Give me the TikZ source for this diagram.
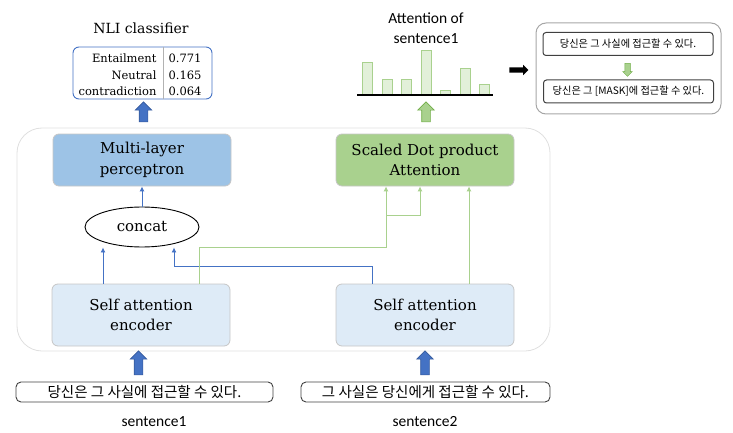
\documentclass[tikz,border=0pt]{standalone}
\usepackage{fontspec}
\setmainfont{DejaVu Serif}
\setsansfont{Carlito}
\newfontfamily\kr{Noto Sans CJK KR}
\usepackage{tikz}
\usetikzlibrary{shapes.geometric,shapes.arrows,arrows.meta}

\definecolor{mlpblue}{HTML}{9DC3E6}
\definecolor{encblue}{HTML}{DEEBF7}
\definecolor{attgreen}{HTML}{A9D18E}
\definecolor{barfill}{HTML}{E2F0D9}
\definecolor{lineblue}{HTML}{4472C4}
\definecolor{darkgreen}{HTML}{70AD47}

\begin{document}
\begin{tikzpicture}[x=1pt,y=-1pt,
    block/.style={rectangle,rounded corners=6pt,draw=gray!45,line width=0.8pt,
        minimum width=178pt,minimum height=52pt,align=center,font=\fontsize{15}{20.5}\selectfont},
    sentbox/.style={rectangle,rounded corners=5pt,draw=black!75,line width=0.9pt,
        minimum height=20pt,inner sep=1pt,font=\kr\fontsize{14.5}{15}\selectfont},
    smallbox/.style={rectangle,rounded corners=3pt,draw=black!75,line width=1pt,
        minimum width=170pt,minimum height=23pt,inner sep=1pt,font=\kr\fontsize{10.2}{12}\selectfont},
    uparrow/.style={single arrow,shape border rotate=90,inner sep=4pt,
        single arrow head extend=4pt,minimum height=20pt,line width=0.6pt},
    bluearr/.style={draw=lineblue,line width=0.9pt,-{Latex[length=5pt,width=5pt]}},
    greenarr/.style={draw=attgreen,line width=0.9pt,-{Latex[length=5pt,width=5pt]}},
    label/.style={font=\sffamily\fontsize{15.5}{20}\selectfont,align=center}]
\useasboundingbox (0,0) rectangle (733,433);

\node[draw=gray!25,line width=0.8pt,rounded corners=25pt,minimum width=533pt,
    minimum height=223pt] (model) at (283.5,239.5) {};

\node[block,fill=mlpblue] (mlp) at (142,160) {Multi-layer\\perceptron};
\node[block,fill=attgreen] (sdpa) at (425,160) {Scaled Dot product\\Attention};
\node[block,fill=encblue,minimum height=62pt] (enc1) at (141,315) {Self attention\\encoder};
\node[block,fill=encblue,minimum height=62pt] (enc2) at (425,315) {Self attention\\encoder};
\node[ellipse,draw,line width=0.9pt,minimum width=114pt,minimum height=40pt,
    font=\fontsize{15}{18}\selectfont] (concat) at (142,227) {concat};

\coordinate (xa) at (103,0);
\coordinate (xb) at (174,0);
\coordinate (xc) at (372,0);
\coordinate (xd) at (199,0);
\coordinate (xe) at (420,0);
\coordinate (xf) at (469,0);
\coordinate (bend1) at (372,266);
\coordinate (bend2) at (386,247);
\coordinate (fork) at (386,215);

\draw[bluearr] (concat) -- (mlp);
\draw[bluearr] (enc1.north -| xa) -- (concat.south -| xa);
\draw[bluearr] (enc2.north -| xc) -- (bend1) -| (concat.south -| xb);
\draw[greenarr] (enc1.north -| xd) |- (bend2) -- (sdpa.south -| bend2);
\draw[greenarr] (fork) -| (sdpa.south -| xe);
\draw[greenarr] (enc2.north -| xf) -- (sdpa.south -| xf);

\node[font=\fontsize{14}{16}\selectfont] (nlititle) at (141,28) {NLI classifier};
\node[draw=lineblue,line width=0.9pt,rounded corners=6pt,minimum width=139pt,
    minimum height=52pt] (nli) at (142.5,73) {};
\coordinate (div) at (163,0);
\draw[gray!60,line width=0.6pt] (nli.north -| div) -- (nli.south -| div);
\node[anchor=east,font=\fontsize{11.5}{13}\selectfont] (ent) at (160,58) {Entailment};
\node[anchor=east,font=\fontsize{11.5}{13}\selectfont] (neu) at (160,75) {Neutral};
\node[anchor=east,font=\fontsize{11.5}{13}\selectfont] (con) at (160,91) {contradiction};
\node[anchor=west,font=\fontsize{11.5}{13}\selectfont] (entv) at (165,58) {0.771};
\node[anchor=west,font=\fontsize{11.5}{13}\selectfont] (neuv) at (165,75) {0.165};
\node[anchor=west,font=\fontsize{11.5}{13}\selectfont] (conv) at (165,91) {0.064};
\node[uparrow,fill=lineblue,draw=lineblue!80!black] (nliup) at (143.5,114) {};

\node[label] (atttitle) at (426,28) {Attention of\\sentence1};
\foreach \bx/\btop in {362/62,382/79,401/79,421/50,440/90,460/68,479/84}
    \draw[draw=attgreen,fill=barfill,line width=0.8pt] (\bx,95) rectangle (\bx+10.5,\btop);
\draw[line width=1.6pt] (357,95) -- (493,95);
\node[uparrow,fill=attgreen,draw=darkgreen] (attup) at (426,114) {};

\node[single arrow,fill=black,inner sep=2.5pt,single arrow head extend=2.5pt,
    minimum height=19pt] (toright) at (517.5,70) {};
\node[draw=gray!70,line width=1pt,rounded corners=10pt,minimum width=185pt,
    minimum height=91pt] (maskgroup) at (628.5,68.5) {};
\node[smallbox] (orig) at (628,44) {당신은 그 사실에 접근할 수 있다.};
\node[smallbox] (masked) at (628.5,91.5) {당신은 그 [MASK]에 접근할 수 있다.};
\node[single arrow,shape border rotate=270,fill=attgreen,draw=darkgreen,line width=0.5pt,
    inner sep=2.5pt,single arrow head extend=2pt,minimum height=13pt] (down) at (627.5,68.5) {};

\node[uparrow,fill=lineblue,draw=lineblue!80!black,minimum height=24pt] (in1) at (138.5,365) {};
\node[uparrow,fill=lineblue,draw=lineblue!80!black,minimum height=24pt] (in2) at (425,365) {};
\node[sentbox,minimum width=257pt] (sent1) at (144.5,392) {당신은 그 사실에 접근할 수 있다.};
\node[sentbox,minimum width=249pt] (sent2) at (425.5,392) {그 사실은 당신에게 접근할 수 있다.};
\node[label] (s1) at (154,422) {sentence1};
\node[label] (s2) at (425,422) {sentence2};
\end{tikzpicture}
\end{document}
